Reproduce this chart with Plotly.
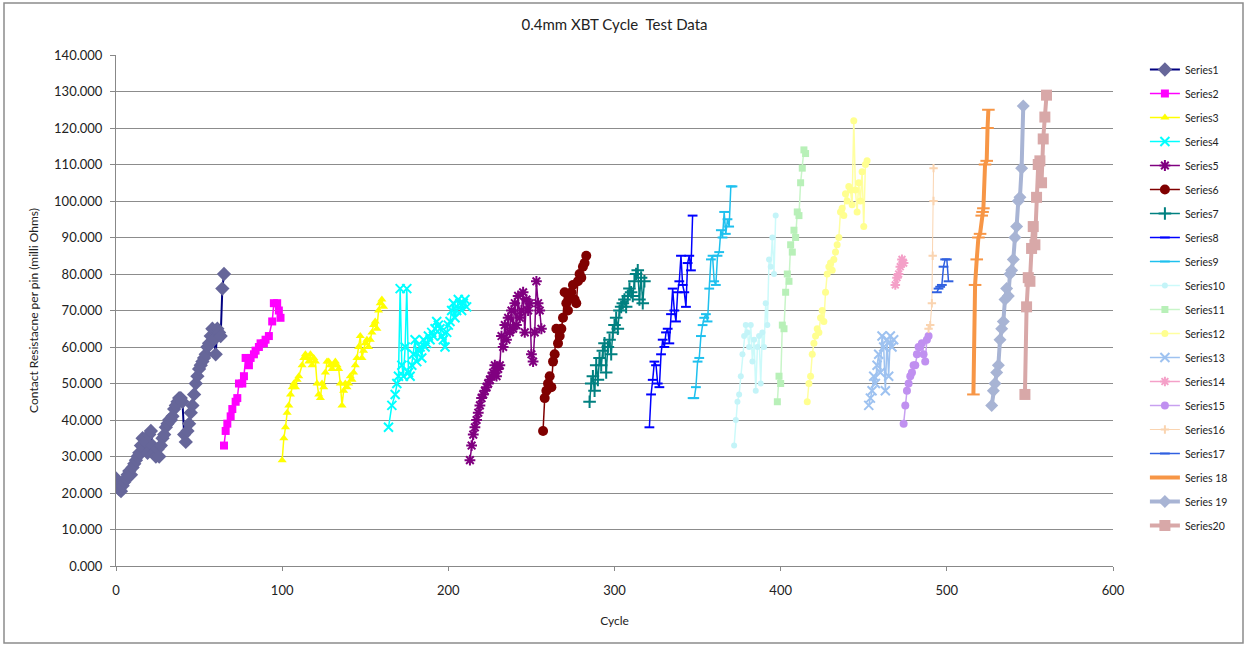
import plotly.graph_objects as go

# ---------------- data ----------------
names = ["Series1", "Series2", "Series3", "Series4", "Series5", "Series6", "Series7",
         "Series8", "Series9", "Series10", "Series11", "Series12", "Series13", "Series14",
         "Series15", "Series16", "Series17", "Series 18", "Series 19", "Series20"]

s1_x = list(range(0, 66))
s1_y = [24, 22, 21, 20.5, 22, 23, 24, 25, 26, 25, 27, 28, 29, 30, 31, 33, 35, 32, 34, 31,
        36, 37, 33, 31, 30, 32, 30, 33, 35, 36, 38, 39, 40, 40, 41, 43, 44, 45, 46, 46,
        45, 36, 34, 37, 39, 42, 44, 47, 50, 52, 54, 55, 56, 57, 58, 60, 61, 63, 65, 62,
        58, 65, 64, 63, 76, 80]

s2_x = [65, 66, 67, 69, 70, 72, 73, 74, 76, 77, 78, 80, 81, 83, 84, 86, 87, 89, 90, 92, 94, 95, 97, 98, 99]
s2_y = [33, 37, 39, 41, 43, 45, 46, 50, 50, 52, 57, 55, 57, 58, 59, 60, 61, 61, 62, 63, 67, 72, 72, 70, 68]

s3_x = [100, 101, 102, 103, 104, 105, 106, 107, 108, 109, 110, 112, 113, 114, 115, 116, 117, 118,
        119, 120, 121, 122, 123, 124, 125, 126, 127, 128, 129, 130, 131, 132, 133, 134, 135, 136,
        137, 138, 139, 140, 141, 142, 143, 144, 145, 146, 147, 148, 149, 150, 151, 152, 153, 154,
        155, 156, 157, 158, 159, 160, 161]
s3_y = [29, 35, 38, 42, 44, 47, 49, 50, 49, 51, 52, 55, 57, 58, 57, 56, 58, 55, 57, 56, 50, 47,
        46, 50, 49, 53, 56, 56, 55, 54, 55, 56, 55, 54, 50, 44, 48, 50, 49, 50, 52, 51, 53, 55,
        57, 60, 63, 57, 59, 61, 62, 60, 62, 64, 66, 67, 65, 70, 72, 73, 71]

s4_x = [164, 166, 168, 169, 170, 171, 172, 173, 174, 175, 176, 177, 178, 179, 180, 181, 182, 183,
        184, 185, 186, 187, 188, 189, 190, 191, 192, 193, 194, 195, 196, 197, 198, 199, 200, 201,
        202, 203, 204, 205, 206, 207, 208, 209, 210, 211]
s4_y = [38, 44, 47, 50, 52, 76, 55, 52, 60, 76, 53, 52, 55, 58, 62, 56, 59, 60, 57, 62, 60, 61,
        63, 62, 64, 63, 65, 67, 66, 65, 63, 62, 60, 64, 66, 67, 70, 72, 68, 70, 73, 72, 70, 72,
        73, 71]

s5_x = list(range(213, 257))
s5_y = [29, 33, 36, 38, 40, 42, 44, 46, 47, 48, 49, 50, 51, 52, 53, 55, 52, 54, 55, 63, 60, 66,
        62, 68, 64, 70, 65, 72, 66, 74, 68, 70, 75, 64, 73, 70, 72, 58, 56, 64, 78, 72, 70, 65]

s6_x = list(range(257, 284))
s6_y = [37, 46, 48, 50, 52, 49, 56, 58, 65, 61, 63, 65, 68, 75, 72, 70, 74, 75, 77, 73, 72, 78,
        80, 79, 82, 83, 85]

s7_x = list(range(285, 319))
s7_y = [45, 50, 52, 48, 55, 51, 57, 55, 59, 61, 53, 60, 62, 58, 64, 66, 68, 65, 70, 71, 72, 73,
        71, 74, 76, 75, 74, 78, 80, 81, 73, 79, 72, 78]

s8_x = list(range(321, 348))
s8_y = [38, 47, 51, 56, 55, 50, 49, 58, 62, 60, 64, 65, 61, 69, 76, 70, 67, 75, 78, 85, 77, 75,
        71, 83, 85, 81, 96]

s9_x = list(range(347, 372))
s9_y = [46, 46, 49, 56, 57, 63, 66, 68, 69, 67, 76, 84, 85, 78, 77, 85, 86, 92, 90, 97, 91, 95,
        93, 104, 104]

s10_x = list(range(372, 398))
s10_y = [33, 40, 45, 47, 52, 58, 63, 66, 64, 60, 66, 56, 62, 48, 60, 63, 50, 64, 60, 72, 66, 84,
         82, 90, 80, 96]

s11_x = list(range(398, 416))
s11_y = [45, 52, 50, 66, 65, 75, 80, 78, 88, 86, 92, 90, 97, 96, 105, 109, 114, 113]

s12_x = list(range(416, 453))
s12_y = [45, 50, 52, 58, 61, 63, 65, 64, 68, 70, 67, 75, 80, 82, 83, 81, 84, 86, 88, 90, 97, 98,
         96, 102, 100, 104, 103, 99, 122, 103, 97, 105, 100, 108, 93, 110, 111]

s13_x = list(range(453, 469))
s13_y = [44, 46, 48, 52, 50, 55, 58, 53, 63, 60, 48, 62, 52, 63, 60, 62]

s14_x = [469, 470, 471, 472, 473, 474]
s14_y = [77, 79, 80, 82, 84, 83]

s15_x = list(range(474, 490))
s15_y = [39, 44, 48, 50, 52, 53, 55, 55, 58, 60, 60, 61, 58, 56, 62, 63]

s16_x = [489, 490, 491, 491.5, 492, 492]
s16_y = [65, 66, 72, 85, 100, 109]

s17_x = [494, 495, 496, 497, 498, 499, 500, 501]
s17_y = [75, 76, 76.5, 77, 82, 84, 84, 78]

s18_x = [516, 517, 518, 519, 520, 521, 521.5, 522, 523, 524, 524.5, 525]
s18_y = [47, 77, 84, 90, 91, 96, 97, 98, 110, 111, 120, 125]

s19_x = list(range(527, 547))
s19_y = [44, 48, 50, 53, 55, 62, 65, 67, 73, 76, 74, 80, 81, 84, 90, 93, 100, 101, 109, 126]

s20_x = list(range(547, 561))
s20_y = [47, 71, 79, 78, 87, 93, 88, 101, 110, 111, 105, 117, 123, 129]

y_ticks = [0, 10, 20, 30, 40, 50, 60, 70, 80, 90, 100, 110, 120, 130, 140]
x_ticks = [0, 100, 200, 300, 400, 500, 600]

# ---------------- styles ----------------
xs = [s1_x, s2_x, s3_x, s4_x, s5_x, s6_x, s7_x, s8_x, s9_x, s10_x,
      s11_x, s12_x, s13_x, s14_x, s15_x, s16_x, s17_x, s18_x, s19_x, s20_x]
ys = [s1_y, s2_y, s3_y, s4_y, s5_y, s6_y, s7_y, s8_y, s9_y, s10_y,
      s11_y, s12_y, s13_y, s14_y, s15_y, s16_y, s17_y, s18_y, s19_y, s20_y]

line_colors = ["#000080", "#FF00FF", "#FFFF00", "#00FFFF", "#800080", "#800000", "#008080",
               "#0000FF", "#1EC0EE", "#CCFAFA", "#C8F5C8", "#FFFFA0", "#9EC2F0", "#F4A0C8",
               "#C8A0F0", "#FAD4B0", "#3060E0", "#F79646", "#A8B4D4", "#D8A8A8"]
marker_colors = ["#666699", "#FF00FF", "#FFFF00", "#00FFFF", "#800080", "#800000", "#008080",
                 "#0000FF", "#1EC0EE", "#C4F4F8", "#B8F0B8", "#FFFF90", "#9EC2F0", "#F4A0C8",
                 "#C090F0", "#FAD4B0", "#3060E0", "#F79646", "#A8B4D4", "#D8A8A8"]
symbols = ["diamond", "square", "triangle-up", "x-thin", "asterisk", "circle", "cross-thin",
           "line-ew", "line-ew", "circle", "square", "circle", "x-thin", "asterisk",
           "circle", "cross-thin", "line-ew", "line-ew", "diamond", "square"]
sizes = [11, 8, 8, 9, 9, 10, 9, 7, 7, 6, 7, 7, 9, 8, 8, 6, 7, 9, 10, 11]
widths = [2, 1.5, 1.5, 1.5, 1.5, 1.5, 1.5, 1.5, 1.5, 1.5, 1.5, 1.5, 1.5, 1.5, 1.5, 1, 1.5, 4, 4, 4]

fig = go.Figure()
for i in range(20):
    sym = symbols[i]
    thin = sym in ("x-thin", "cross-thin", "asterisk", "line-ew")
    fig.add_trace(go.Scatter(
        x=xs[i], y=ys[i], name=names[i], mode="lines+markers",
        legendgroup=names[i],
        line=dict(color=line_colors[i], width=widths[i]),
        marker=dict(symbol=sym, size=sizes[i], color=marker_colors[i],
                    line=dict(color=marker_colors[i], width=2 if thin else 0)),
    ))

font_family = "Lato, Open Sans, sans-serif"

fig.update_layout(
    width=1246, height=646,
    margin=dict(l=116, r=133, t=55, b=80),
    paper_bgcolor="white", plot_bgcolor="white",
    font=dict(family=font_family, size=12, color="#222222"),
    title=dict(text="0.4mm XBT Cycle  Test Data", x=0.5, xref="paper", xanchor="center",
               y=1 - 25 / 646, yref="container", yanchor="middle",
               font=dict(size=15, color="#222222", family=font_family)),
    showlegend=True,
    legend=dict(x=1.032, xanchor="left", y=1.0, yanchor="top",
                font=dict(size=10.5, color="#222222", family=font_family),
                tracegroupgap=5.0, itemwidth=30, bgcolor="rgba(0,0,0,0)"),
    xaxis=dict(range=[0, 600], tickvals=x_ticks, showgrid=False, zeroline=False,
               showline=True, linecolor="#888888", linewidth=1,
               ticks="outside", ticklen=4, tickcolor="#888888", ticklabelstandoff=8,
               title=dict(text="Cycle", font=dict(size=12), standoff=20),
               tickfont=dict(size=13)),
    yaxis=dict(range=[0, 140], tickvals=y_ticks, tickformat=".3f", showgrid=True,
               gridcolor="#8C8C8C", gridwidth=1, zeroline=False,
               showline=True, linecolor="#888888", linewidth=1,
               ticks="outside", ticklen=5, tickcolor="#888888", ticklabelstandoff=5,
               title=dict(text="Contact Resistacne per pin (milli Ohms)", font=dict(size=12),
                          standoff=12),
               tickfont=dict(size=13)),
    shapes=[dict(type="rect", xref="paper", yref="paper",
                 x0=(4 - 116) / 997, x1=(1243 - 116) / 997,
                 y0=(566 - 643) / 511, y1=(566 - 3) / 511,
                 line=dict(color="#8C8C8C", width=1.5), fillcolor="rgba(0,0,0,0)",
                 layer="below")],
)

fig.write_html("out.html", config={"displayModeBar": False},
               post_script="document.body.style.margin='0';")
